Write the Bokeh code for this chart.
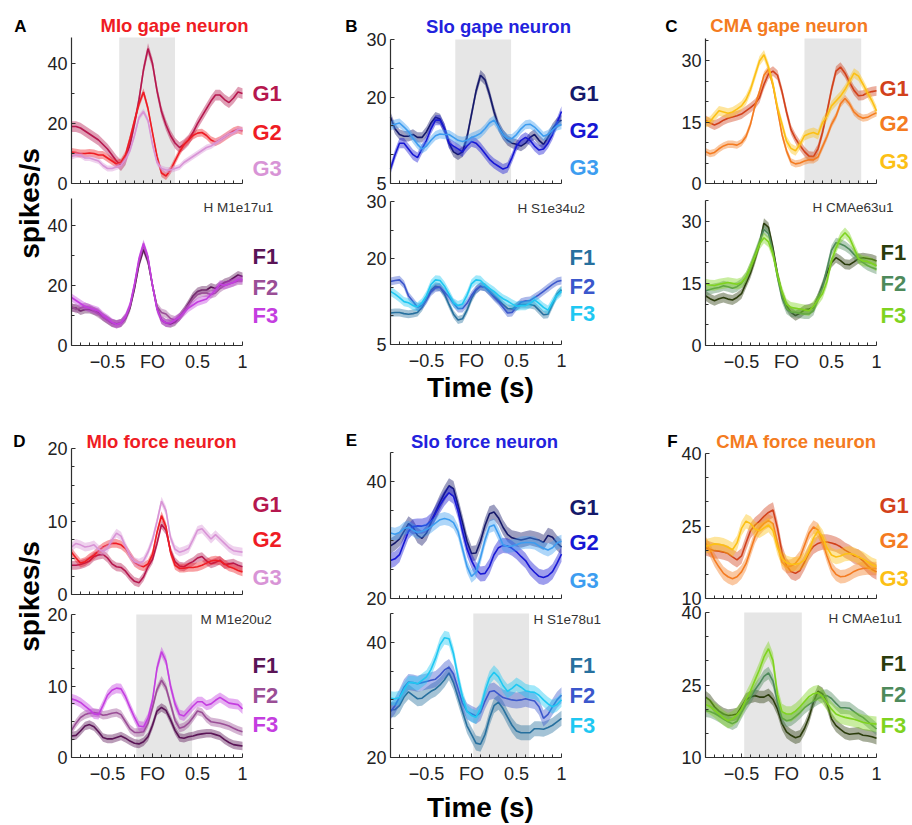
import math
from bokeh.plotting import figure
from bokeh.models import Range1d, FixedTicker, BoxAnnotation, Label, LinearAxis
from bokeh.embed import file_html
from bokeh.resources import INLINE

# ---------------- data ----------------
T = [-0.9, -0.85, -0.8, -0.75, -0.7, -0.65, -0.6, -0.55, -0.5, -0.45,
     -0.4, -0.35, -0.3, -0.25, -0.2, -0.15, -0.1, -0.05, 0.0, 0.05,
     0.1, 0.15, 0.2, 0.25, 0.3, 0.35, 0.4, 0.45, 0.5, 0.55,
     0.6, 0.65, 0.7, 0.75, 0.8, 0.85, 0.9, 0.95, 1.0]

X_MAJOR = [-0.5, 0.0, 0.5, 1.0]
X_MINOR = [-0.9, -0.8, -0.7, -0.6, -0.4, -0.3, -0.2, -0.1, 0.1, 0.2, 0.3, 0.4, 0.6, 0.7, 0.8, 0.9]
X_LABELS = {-0.5: "\u22120.5", 0.0: "FO", 0.5: "0.5", 1.0: "1"}

# Panel A  (MIo gape neuron)
A_G1 = [19, 19, 18.5, 17.5, 16.5, 15.5, 14.5, 13, 11.5, 9.5, 7.5, 6, 8, 13, 20, 28, 38, 45, 40, 31, 24, 19.5, 16, 13.5, 12, 13, 14.5, 17, 20, 22.5, 25, 27.5, 29.5, 29.5, 28, 27, 28.5, 30.5, 30]
A_G2 = [10.5, 10.3, 10, 10, 10.2, 10, 9.5, 9.5, 8.5, 7.5, 6.5, 7, 9.5, 15, 21, 26.5, 30.5, 25, 17, 9, 3.5, 2.5, 4.5, 7.5, 10.5, 13, 14.5, 16, 16.8, 17, 16, 14.5, 13.8, 14.5, 15.5, 16.5, 17.5, 18, 17.5]
A_G3 = [9, 9.5, 9.5, 8.5, 8.5, 8, 7.5, 6, 5, 5, 5.5, 6, 8, 11, 16, 22, 24, 21, 13, 7, 5, 4.5, 4.5, 5, 5.5, 7, 8, 9, 10, 11, 12, 12.5, 13.5, 14.5, 15.5, 16.5, 17, 18, 18]
A_F1 = [12.5, 12.5, 11.5, 12, 12, 11.5, 11, 9.5, 8.5, 7.5, 7.2, 7.5, 9, 12.5, 19, 27, 32, 28, 20, 12.5, 8.5, 7.5, 7.2, 7.8, 9.5, 11.5, 14, 16.5, 18, 18.5, 18.5, 19.5, 19, 20, 21, 21.5, 22.5, 23.5, 23]
A_F2 = [13, 12, 12.5, 13, 12.5, 11.5, 10.5, 9.5, 8.5, 7.5, 7, 7.5, 9.5, 13, 20, 28, 33.5, 29, 20, 13, 11, 10.5, 9, 8.5, 9.5, 11.5, 13.5, 15.5, 17, 17.5, 17.5, 17, 17.5, 19, 20, 20.5, 21, 21.5, 21.5]
A_F3 = [16, 15, 14, 13, 12.5, 12, 11.5, 10, 9, 7.8, 7, 7.5, 9.5, 13.5, 20.5, 29, 34, 29.5, 20, 12, 8.5, 7.5, 7.5, 8.5, 9.5, 11, 12.5, 13.5, 14.5, 15, 15.5, 17, 18.5, 20.5, 20, 20.5, 21, 22, 22]

# Panel B  (SIo gape neuron)
B_G1 = [16.5, 14.5, 13.5, 13.2, 13.2, 13.5, 13, 13, 14, 15.5, 16.5, 16.2, 14.5, 12, 10.5, 10, 10.5, 13, 17, 21, 23.8, 23, 20.5, 17.5, 15, 13.5, 12.5, 12, 11.8, 11.5, 12, 13, 13.5, 12.5, 11.8, 13, 14.5, 15.5, 16]
B_G2 = [7.5, 10, 12, 12, 11, 10, 9.5, 11, 12.5, 14.5, 16, 16, 14.5, 12, 11.5, 11, 10.5, 11.5, 12.3, 12, 11.2, 10.2, 9.2, 8.5, 8, 7.5, 7.8, 9.5, 11.5, 12.5, 13, 12.5, 11.5, 10.8, 11, 12, 13.5, 15.5, 17.5]
B_G3 = [15, 15.3, 15.5, 14.8, 14, 12.8, 11.8, 11, 11.5, 12.5, 13.3, 13.6, 13.5, 13.5, 13, 12.5, 12.3, 12.5, 13, 13.3, 13.7, 14.5, 15.5, 16, 14.8, 13.5, 12.8, 12.8, 13.5, 14.5, 15.2, 15.3, 14.8, 14, 13.2, 13.5, 14.3, 15, 15.2]
B_F1 = [10.5, 10.6, 10.6, 10.4, 10.3, 10.4, 10.6, 11.5, 13, 14.5, 15.2, 15, 13.8, 12, 10.3, 9.3, 9.5, 11, 13, 14.5, 15.2, 15, 14.3, 13.5, 12.8, 12, 11.3, 11.2, 11.7, 12, 12, 12, 11.8, 11, 10.2, 10.3, 12, 13.8, 14.6]
B_F2 = [16, 16.2, 16.3, 15.5, 13.5, 12.5, 11.5, 11.8, 12.8, 14.2, 14.9, 15, 14.2, 13.3, 12.2, 11.3, 11.3, 12.2, 13.6, 14.6, 15.2, 15, 14.2, 13.3, 12.5, 11.5, 10.5, 10.6, 11.6, 12.4, 12.6, 12.7, 13.2, 13.7, 14.3, 14.9, 15.5, 16, 16.2]
B_F3 = [14.3, 13.8, 13.2, 12.5, 12.3, 11.8, 11.6, 12.3, 13.6, 15.5, 16.3, 16.2, 15.2, 13.8, 12.3, 11.8, 12.1, 13.6, 15.6, 16.3, 16.2, 15.4, 14.8, 14.3, 13.6, 13, 12.6, 12.1, 11.7, 11.8, 11.8, 12.2, 12.8, 12.2, 11.5, 11, 12.4, 13.6, 14.3]

# Panel C  (CMA gape neuron)
C_G1 = [15.5, 14.8, 14.3, 14.8, 15.5, 16, 16.3, 16.6, 17, 17.8, 18.6, 19.5, 21, 24.3, 26.8, 27.5, 26.5, 22.5, 17.5, 13.2, 11, 9.3, 7.8, 6.7, 6.6, 8.5, 12.5, 17.5, 23, 27.5, 28.5, 27, 24.8, 22.8, 21.5, 21.6, 22.2, 22.5, 22.7]
C_G2 = [7.8, 7.3, 7.6, 8.5, 9.2, 9.6, 9.6, 9.4, 10, 11.5, 14.5, 19, 22.5, 26.5, 28, 24, 18, 12, 8, 5.3, 4.8, 5, 5.5, 5.8, 5.8, 6.5, 9, 11.5, 14.5, 16.5, 19.5, 20.8, 19.5, 17.5, 16.5, 16, 16.2, 16.8, 17.3]
C_G3 = [15, 15.2, 16.5, 17.8, 17.5, 17.2, 17.5, 18.2, 19, 20.5, 23, 26.5, 30, 31.5, 28.5, 24.3, 18.6, 14.5, 10.4, 8.6, 8, 9.6, 11.7, 12.2, 12.5, 12, 14.9, 16.5, 19, 20.2, 21.4, 23, 25, 27, 26.3, 24.3, 22.2, 20.2, 17.8]
C_F1 = [12, 11.3, 10.8, 11.3, 11.6, 11.2, 11, 11.6, 12.5, 15, 17.5, 20.8, 24.5, 29.5, 28.5, 23.5, 17.2, 12.4, 9.6, 8, 7.2, 7.8, 8.6, 8.8, 9.2, 11.5, 14.5, 17.5, 20, 21.2, 20.5, 19.6, 19.5, 20.2, 21, 21.2, 21, 20.8, 20.4]
C_F2 = [13.2, 13.5, 13.8, 14, 14.4, 14.2, 13.8, 14.2, 15, 16.5, 19, 22, 25, 28, 27, 22.5, 16.5, 11.5, 8.8, 8, 8, 7.8, 7.6, 7.6, 8.5, 11.5, 14, 18.5, 23, 24.8, 24.5, 24, 23.2, 22, 21, 20, 19.3, 18.8, 18.4]
C_F3 = [14.8, 14.6, 14.5, 14.8, 15, 15.2, 15, 14.8, 15.2, 16.5, 19, 21.5, 24.5, 26, 25, 22, 17, 13, 10, 9.2, 9, 8.8, 8.6, 8.4, 9.5, 11, 12.5, 15.5, 20.5, 23.5, 26, 27.2, 26, 23.5, 21, 20.4, 20.3, 19.8, 19.2]

# Panel D  (MIo force neuron)
D_G1 = [4, 4, 4.1, 4.3, 4.6, 5.2, 5.4, 5.5, 5, 4.2, 3.8, 3.7, 3.2, 2.4, 1.8, 1.6, 2.4, 3.8, 4.8, 7, 9.6, 8.8, 6, 4.5, 3.9, 3.8, 4.2, 4.5, 5, 5.2, 4.6, 4.2, 4.4, 4.7, 4.1, 4.2, 4.3, 4, 3.8]
D_G2 = [5.8, 5, 4.3, 4.5, 5, 5.4, 6, 6.5, 6.8, 7, 7, 6.8, 6.3, 5.4, 4.4, 4, 3.8, 4.2, 5.5, 8.5, 10.8, 9.3, 5.8, 4, 3.6, 3.6, 3.7, 3.7, 3.8, 4, 4.3, 4.6, 4.7, 4.6, 4.2, 3.8, 3.6, 3.3, 3.1]
D_G3 = [6.5, 7, 6.8, 6.5, 6.6, 6.8, 6.2, 5.9, 6.3, 7.5, 8.4, 8, 6.6, 5.3, 4.5, 4.3, 4.6, 5.8, 7.5, 10, 12.8, 11.5, 7.8, 6.2, 5.8, 6, 6.3, 7.5, 8.8, 9, 8.3, 7.6, 8.2, 7.6, 7, 6.4, 6, 5.9, 5.8]
D_F1 = [3, 3.1, 3.7, 4.4, 4.6, 4.3, 3.6, 2.8, 2.6, 2.6, 2.8, 3, 2.7, 2.3, 2, 1.9, 2.2, 2.9, 4.5, 6.5, 7, 6.6, 5.3, 3.8, 2.8, 2.7, 2.9, 3, 3.2, 3.3, 3.4, 3.4, 3.2, 3, 2.5, 2.1, 1.8, 1.7, 1.6]
D_F2 = [3.8, 4.8, 5.6, 6, 6.2, 6.3, 6.2, 5.9, 6, 6.2, 6.3, 6, 5, 4, 3.5, 3.5, 3.6, 4.8, 7, 9.5, 10.8, 9.8, 7.5, 5.2, 4.1, 4.3, 4.8, 5.6, 6.5, 6.3, 5.5, 5, 4.9, 4.8, 4.6, 4.4, 4.1, 3.8, 3.6]
D_F3 = [8.2, 8, 7.7, 7.2, 6.7, 6.1, 6, 7.3, 8.7, 9.4, 9.7, 9.6, 8.5, 7, 5.6, 4.4, 4.3, 5.5, 8, 12.5, 14.8, 13.5, 10, 7.5, 6, 5.8, 6.5, 7.2, 7.8, 7.8, 7.3, 7.5, 8, 8.4, 8, 7.6, 7.5, 7.4, 6.8]

# Panel E  (SIo force neuron)
E_G1 = [29, 29.5, 30.2, 31.5, 32.8, 32.2, 30.8, 30.3, 31.2, 33, 34.8, 36.5, 38, 39.3, 38.8, 36, 33, 29.8, 27.7, 27.8, 29.8, 32.5, 34.5, 34.8, 33.8, 32.2, 31, 30.4, 30.2, 30, 30.2, 30.4, 30.2, 30, 29.6, 30.8, 30.5, 29.5, 28.8]
E_G2 = [26.5, 26.8, 27.5, 29.5, 31.5, 32.3, 32.4, 32.4, 32.6, 33.3, 34.6, 36, 37.2, 38.1, 37.5, 35, 31.5, 28.5, 26.5, 25, 24.2, 24.3, 25.5, 27.5, 28.7, 29.1, 29, 28.6, 28, 27.2, 26.5, 25.3, 24.5, 23.8, 23.6, 23.9, 24.6, 26, 27.6]
E_G3 = [31.2, 31, 31.3, 32, 32.2, 31.7, 31.3, 31.5, 31.8, 32.3, 32.9, 33.5, 33.7, 33.5, 33, 31.5, 28.5, 25.5, 23.8, 24.5, 27, 30, 32.3, 32.6, 31, 29.2, 28.9, 29, 29.2, 29.5, 29.6, 29.6, 29.5, 29, 28.6, 28.3, 28.7, 29.5, 29.8]
E_F1 = [28.3, 28.3, 29, 30.5, 31.4, 30.8, 30.2, 30.3, 30.9, 31.5, 31.9, 32.6, 33.5, 34.7, 33, 30.5, 28, 25.5, 24, 22.5, 22.3, 24, 26.8, 29, 29.6, 28.5, 27, 25.6, 24.6, 24.3, 24.3, 24.3, 25, 25, 24.9, 25.2, 25.6, 26.2, 26.8]
E_F2 = [28, 29, 30.5, 32.2, 33.1, 33, 32.8, 33, 33.2, 33.4, 33.6, 34.3, 35.2, 35.7, 34.5, 32, 29.5, 28, 27.6, 27.2, 27.8, 29.8, 31.4, 31.6, 31, 30.4, 30.2, 30, 29.9, 30, 30.2, 30, 29.8, 28.8, 26.8, 27.5, 28.8, 30, 30.8]
E_F3 = [30.3, 30.2, 30.4, 31.8, 33, 33, 32.8, 33.4, 34, 35.3, 37.2, 39.6, 40.8, 40.6, 38, 34, 30.5, 28, 27.3, 27, 28.5, 31.5, 33.8, 34.8, 34, 32.5, 31.5, 32, 32.7, 32.2, 31.6, 31.4, 31.3, 30.8, 30, 29.3, 28.8, 29.2, 30]

# Panel F  (CMA force neuron)
F_G1 = [20.5, 20.2, 19.9, 19.8, 19.6, 19.3, 18.6, 18, 18.8, 21.5, 24, 25.2, 26, 27, 27.8, 28.3, 24.5, 19.5, 16.8, 15.6, 15.2, 15.8, 17.5, 19.5, 20.8, 21.4, 21.7, 21.7, 21.5, 21.2, 20.7, 20, 19.5, 18.8, 18.6, 17.8, 16.8, 16, 15.5]
F_G2 = [21.5, 20, 18, 16.5, 15.2, 14.5, 14.1, 14.5, 15.5, 17.2, 20, 22.8, 24.5, 25.5, 26.1, 25.5, 21.5, 17.5, 16.6, 16.7, 17.3, 18.5, 21, 23.5, 24.8, 24.2, 21.8, 18.8, 16.2, 15, 14.5, 14.6, 15, 15.6, 16, 16.2, 16.3, 16.2, 16.2]
F_G3 = [20.8, 21, 21.3, 21.2, 21, 20.6, 20.1, 21.5, 24.5, 26, 25.5, 24.4, 24, 24.6, 25.2, 24, 20.5, 18.3, 17.4, 17.1, 17.1, 17.3, 18, 19.8, 22.5, 24, 22.8, 20.5, 19, 18.6, 18.8, 19.2, 19.3, 19.1, 18.6, 18.2, 17.6, 17, 16.6]
F_F1 = [22.5, 21.8, 20.5, 19.6, 19, 18.7, 18.8, 19, 20.5, 22, 22.5, 22.8, 22.5, 22.5, 23, 22, 20, 17, 15.3, 14.6, 14.1, 14.4, 16, 18.3, 21.5, 23.7, 23.2, 21.2, 18, 16.6, 15.8, 15.1, 14.8, 14.9, 15, 14.6, 14.5, 14.3, 14]
F_F2 = [19.7, 19.5, 19.1, 18.6, 18, 17.4, 17, 17.5, 19.3, 21, 22.4, 24, 25.3, 26.8, 27.5, 25.8, 21.5, 18.2, 17.6, 17.8, 18.5, 19.3, 20.3, 21, 21.6, 22.2, 22.7, 22.8, 22.2, 21.2, 20.3, 20.3, 20.2, 19.5, 18.8, 18.3, 17.5, 16.7, 15.9]
F_F3 = [21, 20.5, 19.8, 19, 18.2, 17.6, 18, 18.8, 20, 22, 23.8, 26, 28.2, 30.8, 32.5, 30, 23, 19.5, 19, 19, 19.6, 20.5, 21.6, 22.6, 23.2, 23.4, 22.6, 21.3, 20, 19, 18.6, 18.3, 18.1, 17.9, 17.6, 17.3, 17.1, 17, 16.9]

# half-width of the shaded error bands (SEM), one per trace
SEM_A_G = [1.8, 1.3, 1.0]
SEM_A_F = [1.3, 1.3, 1.3]
SEM_B_G = [0.9, 0.9, 0.8]
SEM_B_F = [0.7, 0.7, 0.8]
SEM_C_G = [1.2, 0.9, 1.2]
SEM_C_F = [1.2, 1.2, 1.3]
SEM_D_G = [0.6, 0.6, 0.6]
SEM_D_F = [0.6, 0.6, 0.7]
SEM_E_G = [1.3, 1.3, 1.1]
SEM_E_F = [1.3, 1.4, 1.2]
SEM_F_G = [1.6, 1.4, 1.5]
SEM_F_F = [1.3, 1.3, 1.6]

# grey epochs (s)
SHADE_A = (-0.37, 0.25)
SHADE_B = (-0.18, 0.44)
SHADE_C = (0.20, 0.83)
SHADE_D = (-0.18, 0.44)
SHADE_E = (0.02, 0.64)
SHADE_F = (-0.47, 0.17)

G_NAMES = ["G1", "G2", "G3"]
F_NAMES = ["F1", "F2", "F3"]
UNITS = ["H M1e17u1", "H S1e34u2", "H CMAe63u1", "M M1e20u2", "H S1e78u1", "H CMAe1u1"]
TITLES = ["MIo gape neuron", "SIo gape neuron", "CMA gape neuron",
          "MIo force neuron", "SIo force neuron", "CMA force neuron"]

# ---------------- style ----------------
MIO_G = ["#b5174e", "#ef1c24", "#d894d6"]
MIO_F = ["#5a1456", "#9a4e96", "#c43ee0"]
SIO_G = ["#15196a", "#1717d4", "#3d9df0"]
SIO_F = ["#27709e", "#3b57cc", "#1fc8f2"]
CMA_G = ["#d2411b", "#f47b21", "#fcc015"]
CMA_F = ["#2b3c0c", "#4e8a5b", "#7fd320"]
TITLE_COL = {"MIo": "#ef1c24", "SIo": "#2222dd", "CMA": "#f47b21"}

SANS = "'Liberation Sans', Arial, sans-serif"
AX = "#2f2f2f"
W, H = 912, 825
PX_PER_S = 90.0

p = figure(title=None, width=W, height=H, x_range=Range1d(0, W), y_range=Range1d(H, 0),
           x_axis_type=None, y_axis_type=None, min_border=0,
           output_backend="svg", toolbar_location=None)
p.outline_line_color = None
p.background_fill_color = "white"
p.border_fill_color = "white"

COL_LEFT = {"c1": 71, "c2": 390, "c3": 705}
for cname, left in COL_LEFT.items():
    p.extra_x_ranges[cname] = Range1d(-0.9 - left / PX_PER_S, -0.9 + (W - left) / PX_PER_S)


def yrange(lo, hi, top_px, bot_px):
    k = (bot_px - top_px) / (hi - lo)
    return Range1d(lo - (H - bot_px) / k, hi + top_px / k)


def subplot(key, col, series, sems, colors, names, yr, ymaj, ymin, frame_px,
            xlabels, name_x, name_ys, shade=None):
    lo, hi = yr
    p.extra_y_ranges[key] = yrange(lo, hi, frame_px[0], frame_px[1])
    if shade is not None:
        p.add_layout(BoxAnnotation(left=shade[0], right=shade[1], bottom=lo, top=hi,
                                   x_range_name=col, y_range_name=key,
                                   fill_color="#e6e6e6", fill_alpha=1.0, line_color=None,
                                   level="underlay"))
    for ys, s, c in zip(series, sems, colors):
        lo_b = [v - s for v in ys]
        hi_b = [v + s for v in ys]
        p.varea(x=T, y1=lo_b, y2=hi_b, fill_color=c, fill_alpha=0.42,
                x_range_name=col, y_range_name=key)
        p.line(T, ys, line_color=c, line_width=1.6, x_range_name=col, y_range_name=key)

    ya = LinearAxis(x_range_name=col, y_range_name=key, fixed_location=-0.9, bounds=(lo, hi),
                    ticker=FixedTicker(ticks=ymaj, minor_ticks=ymin))
    xa = LinearAxis(x_range_name=col, y_range_name=key, fixed_location=lo, bounds=(-0.9, 1.0),
                    ticker=FixedTicker(ticks=X_MAJOR, minor_ticks=X_MINOR),
                    major_label_overrides=X_LABELS)
    for ax in (xa, ya):
        ax.axis_line_color = AX
        ax.axis_line_width = 1.2
        ax.major_tick_line_color = AX
        ax.minor_tick_line_color = AX
        ax.major_tick_in = 4
        ax.major_tick_out = 0
        ax.minor_tick_in = 3
        ax.minor_tick_out = 0
        ax.major_label_text_font = SANS
        ax.major_label_text_font_size = "18px"
        ax.major_label_text_color = "#222222"
    ya.major_label_standoff = 4
    xa.major_label_standoff = 6
    if not xlabels:
        xa.major_label_text_color = None
    p.add_layout(ya, "left")
    p.add_layout(xa, "below")

    for nm, c, yy in zip(names, colors, name_ys):
        p.add_layout(Label(x=name_x, y=yy, text=nm, text_color=c, text_font=SANS,
                           text_font_style="bold", text_font_size="22px",
                           text_baseline="middle", text_align="left"))


def text(x, y, s, color="black", size="17px", bold=True, align="center", angle=0.0):
    p.add_layout(Label(x=x, y=y, text=s, text_color=color, text_font=SANS,
                       text_font_style="bold" if bold else "normal", text_font_size=size,
                       text_align=align, text_baseline="middle", angle=angle, angle_units="rad"))


# ---- column 1 : A / D ----
subplot("A1", "c1", [A_G1, A_G2, A_G3], SEM_A_G, MIO_G, G_NAMES, (0, 48.7), [0, 20, 40], [10, 30],
        (37, 183), False, 252, [93, 132, 168], SHADE_A)
subplot("A2", "c1", [A_F1, A_F2, A_F3], SEM_A_F, MIO_F, F_NAMES, (0, 49), [0, 20, 40], [10, 30],
        (198, 345), True, 252, [256, 287, 315])
subplot("D1", "c1", [D_G1, D_G2, D_G3], SEM_D_G, MIO_G, G_NAMES, (0, 20), [0, 10, 20],
        [2.5, 5, 7.5, 12.5, 15, 17.5], (448, 594), False, 252, [504, 539, 577])
subplot("D2", "c1", [D_F1, D_F2, D_F3], SEM_D_F, MIO_F, F_NAMES, (0, 20), [0, 10, 20],
        [2.5, 5, 7.5, 12.5, 15, 17.5], (614, 757), True, 252, [665, 695, 724], SHADE_D)

# ---- column 2 : B / E ----
subplot("B1", "c2", [B_G1, B_G2, B_G3], SEM_B_G, SIO_G, G_NAMES, (5, 30), [5, 20, 30], [10, 15, 25],
        (39, 183), False, 569, [93, 130, 167], SHADE_B)
subplot("B2", "c2", [B_F1, B_F2, B_F3], SEM_B_F, SIO_F, F_NAMES, (5, 30), [5, 20, 30], [10, 15, 25],
        (201, 344), True, 569, [257, 286, 313])
subplot("E1", "c2", [E_G1, E_G2, E_G3], SEM_E_G, SIO_G, G_NAMES, (20, 45), [20, 40], [25, 30, 35, 45],
        (452, 598), False, 569, [507, 542, 580])
subplot("E2", "c2", [E_F1, E_F2, E_F3], SEM_E_F, SIO_F, F_NAMES, (20, 45), [20, 40], [25, 30, 35, 45],
        (613, 757), True, 569, [665, 695, 725], SHADE_E)

# ---- column 3 : C / F ----
subplot("C1", "c3", [C_G1, C_G2, C_G3], SEM_C_G, CMA_G, G_NAMES, (0, 35.5), [0, 15, 30],
        [5, 10, 20, 25, 35], (38, 183), False, 879, [88, 123, 161], SHADE_C)
subplot("C2", "c3", [C_F1, C_F2, C_F3], SEM_C_F, CMA_F, F_NAMES, (0, 35), [0, 15, 30],
        [5, 10, 20, 25, 35], (200, 345), True, 880, [252, 283, 315])
subplot("F1", "c3", [F_G1, F_G2, F_G3], SEM_F_G, CMA_G, G_NAMES, (10, 40), [10, 25, 40],
        [15, 20, 30, 35], (453, 598), False, 879, [505, 540, 578])
subplot("F2", "c3", [F_F1, F_F2, F_F3], SEM_F_F, CMA_F, F_NAMES, (10, 40), [10, 25, 40],
        [15, 20, 30, 35], (612, 757), True, 880, [663, 694, 725], SHADE_F)

# ---- titles, letters, unit ids, axis titles ----
TITLE_POS = [(174, 25), (498, 26), (789, 25), (161, 441), (484, 441), (796, 441)]
for s, (x, y) in zip(TITLES, TITLE_POS):
    text(x, y, s, color=TITLE_COL[s[:3]], size="18.5px")

LETTER_POS = [("A", 20, 26), ("B", 351, 26), ("C", 671, 26), ("D", 19, 441), ("E", 351, 440), ("F", 672, 441)]
for s, x, y in LETTER_POS:
    text(x, y, s, size="17px")

UNIT_POS = [(203, 207), (517, 208), (812, 207), (200, 619), (533, 619), (828, 618)]
for s, (x, y) in zip(UNITS, UNIT_POS):
    text(x, y, s, color="#333333", size="13.5px", bold=False, align="left")

for y in (203, 596):
    text(29, y, "spikes/s", size="28px", angle=math.pi / 2)
for y in (387, 807):
    text(480, y, "Time (s)", size="28px")

open("out.html", "w").write(file_html(p, INLINE))
